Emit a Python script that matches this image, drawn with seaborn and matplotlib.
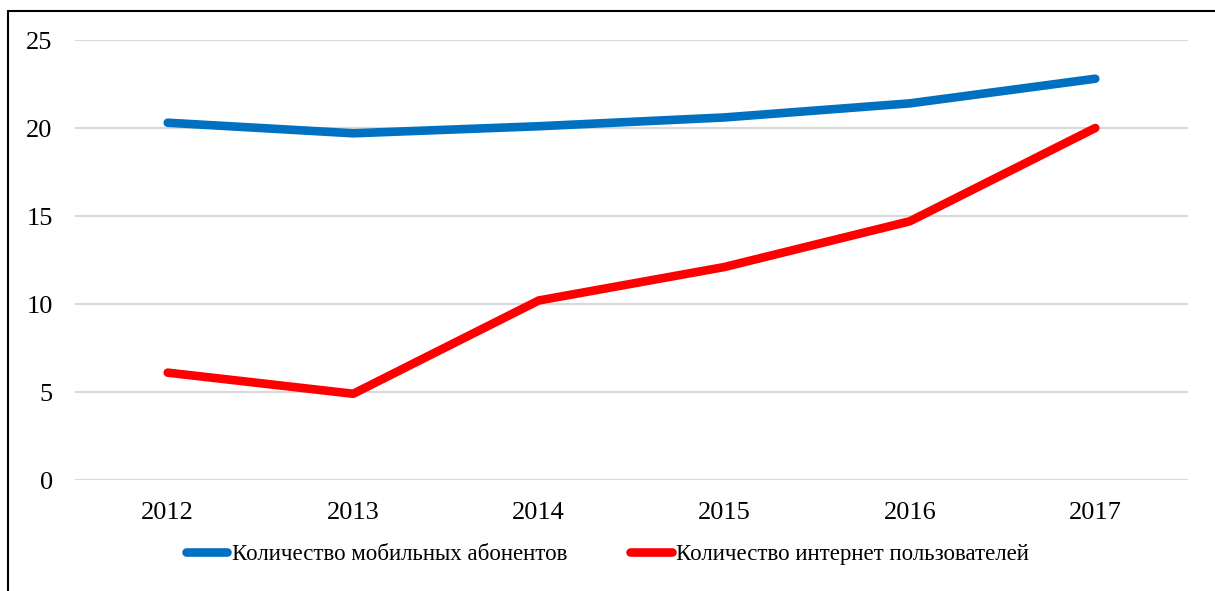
import matplotlib.pyplot as plt
import seaborn as sns
import pandas as pd
from matplotlib.lines import Line2D

# Данные графика
years = [2012, 2013, 2014, 2015, 2016, 2017]
mobile = [20.3, 19.7, 20.1, 20.6, 21.4, 22.8]
internet = [6.1, 4.9, 10.2, 12.1, 14.7, 20.0]
series_names = ['Количество мобильных абонентов', 'Количество интернет пользователей']
colors = ['#0070C0', '#FF0000']

df = pd.DataFrame({
    'Год': years * 2,
    'Значение': mobile + internet,
    'Серия': [series_names[0]] * len(years) + [series_names[1]] * len(years),
})

sns.set_style("white")
plt.rcParams['font.family'] = ['Liberation Serif', 'DejaVu Serif']
plt.rcParams['text.color'] = 'black'
plt.rcParams['xtick.color'] = 'black'
plt.rcParams['ytick.color'] = 'black'

fig = plt.figure(figsize=(12.15, 5.91), dpi=100)
ax = fig.add_axes([0.0617, 0.1878, 0.9161, 0.7445])

sns.lineplot(data=df, x='Год', y='Значение', hue='Серия', palette=colors,
             linewidth=6.2, ax=ax, legend=False, solid_capstyle='round',
             solid_joinstyle='round')

ax.set_xlim(2011.5, 2017.5)
ax.set_ylim(0, 25)
ax.set_xticks(years)
ax.set_yticks([0, 5, 10, 15, 20, 25])
ax.yaxis.grid(True, color='#D9D9D9', linewidth=1.5)
ax.set_axisbelow(True)
for s in ax.spines.values():
    s.set_visible(False)
ax.tick_params(axis='both', length=0, labelsize=19, labelcolor='black')
ax.tick_params(axis='x', pad=16)
ax.tick_params(axis='y', pad=16)
ax.set_xlabel('')
ax.set_ylabel('')

# Легенда
handles = [Line2D([0], [0], color=c, linewidth=6.2, solid_capstyle='round') for c in colors]
fig.legend(handles, series_names, loc='center', bbox_to_anchor=(0.5, 0.0626),
           ncol=2, frameon=False, fontsize=16.5, handlelength=1.8,
           handletextpad=0.2, columnspacing=2.75)

# Рамка
fig.add_artist(Line2D([0.0066, 0.0066], [0, 0.981], color='black', linewidth=1.5,
                      transform=fig.transFigure))
fig.add_artist(Line2D([0.0066, 1], [0.981, 0.981], color='black', linewidth=1.5,
                      transform=fig.transFigure))

fig.savefig('out.png', dpi=100)
